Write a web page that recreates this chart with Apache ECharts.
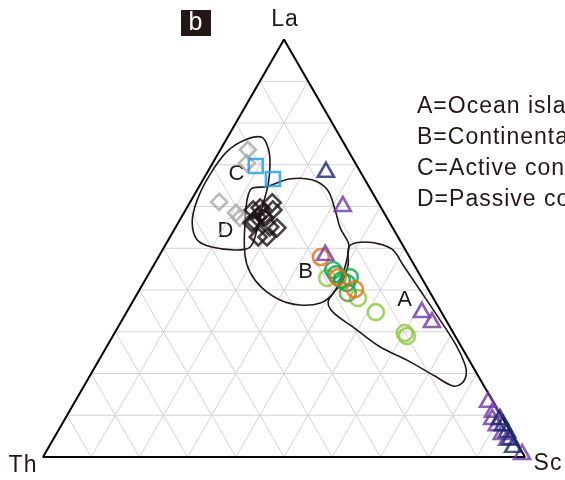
<!DOCTYPE html>
<html><head><meta charset="utf-8">
<script src="https://cdn.jsdelivr.net/npm/echarts@6/dist/echarts.min.js"></script>
<style>html,body{margin:0;padding:0;background:#fff}#c{width:565px;height:480px}</style>
</head><body><div id="c"></div>
<script>
// All compositions are [La, Th, Sc] fractions
const gridTicks = [0.1,0.2,0.3,0.4,0.5,0.6,0.7,0.8,0.9];
const apexLabels = ['La','Th','Sc'];
const fieldLabels = ['A','B','C','D'];
const legendLines = ['A=Ocean island arc','B=Continental island arc','C=Active continental margin','D=Passive continental margin'];

const blueSquares = [[0.697,0.210,0.093],[0.666,0.190,0.144]];
const navyTriangles = [[0.688,0.069,0.243],[0.096,0.004,0.900],[0.081,0.005,0.914],[0.065,0.005,0.930],[0.048,0.007,0.945],[0.029,0.010,0.961]];
const purpleTriangles = [[0.606,0.075,0.319],[0.489,0.170,0.341],[0.352,0.038,0.610],[0.328,0.029,0.643],
  [0.137,0.008,0.855],[0.113,0.010,0.877],[0.096,0.020,0.884],[0.081,0.018,0.901],[0.060,0.018,0.922],[0.046,0.014,0.940],[0.012,0.000,0.988]];
const orangeCircles = [[0.479,0.184,0.337],[0.431,0.173,0.396],[0.402,0.152,0.446]];
const darkGreenCircles = [[0.448,0.174,0.378],[0.438,0.173,0.389],[0.431,0.148,0.421],[0.417,0.161,0.422],[0.424,0.168,0.408]];
const oliveCircles = [[0.393,0.171,0.436]];
const lightGreenCircles = [[0.429,0.196,0.375],[0.381,0.156,0.463],[0.347,0.136,0.517],[0.297,0.101,0.602],[0.290,0.100,0.610]];
const blackDiamonds = [[0.592,0.268,0.140],[0.597,0.251,0.152],[0.609,0.220,0.171],[0.592,0.227,0.181],[0.575,0.268,0.157],
  [0.573,0.253,0.174],[0.561,0.286,0.153],[0.551,0.254,0.195],[0.527,0.290,0.183],[0.527,0.272,0.201],[0.549,0.240,0.211],
  [0.585,0.253,0.162],[0.563,0.279,0.158]];
const greyDiamonds = [[0.736,0.207,0.057],[0.704,0.225,0.071],[0.611,0.329,0.060],[0.585,0.307,0.108],[0.573,0.305,0.122]];

const fieldCD = [[0.760,0.200,0.040],[0.766,0.163,0.071],[0.740,0.163,0.097],[0.704,0.177,0.119],[0.652,0.207,0.141],
  [0.604,0.242,0.154],[0.544,0.284,0.172],[0.503,0.319,0.178],[0.496,0.354,0.150],[0.503,0.398,0.099],[0.520,0.420,0.060],
  [0.563,0.409,0.028],[0.616,0.372,0.012],[0.676,0.316,0.008],[0.732,0.252,0.016]];
const fieldB = [[0.640,0.250,0.110],[0.648,0.210,0.142],[0.666,0.156,0.178],[0.664,0.110,0.226],[0.640,0.090,0.270],
  [0.592,0.098,0.310],[0.549,0.109,0.342],[0.513,0.110,0.377],[0.491,0.121,0.388],[0.441,0.157,0.402],[0.393,0.201,0.406],
  [0.369,0.240,0.391],[0.364,0.285,0.351],[0.376,0.320,0.304],[0.405,0.343,0.252],[0.443,0.349,0.208],[0.484,0.339,0.177],
  [0.556,0.303,0.141]];
const fieldA = [[0.496,0.119,0.385],[0.510,0.104,0.386],[0.515,0.074,0.411],[0.510,0.046,0.444],[0.496,0.026,0.478],
  [0.460,0.023,0.517],[0.400,0.018,0.582],[0.340,0.013,0.647],[0.268,0.009,0.723],[0.220,0.014,0.766],[0.196,0.024,0.780],
  [0.177,0.042,0.781],[0.170,0.064,0.766],[0.194,0.090,0.716],[0.232,0.129,0.639],[0.264,0.169,0.567],[0.311,0.201,0.488],
  [0.347,0.225,0.428],[0.371,0.223,0.406],[0.393,0.201,0.406],[0.419,0.170,0.411],[0.460,0.137,0.403]];

// slight tracking, as in the reference typography
(function(){
  const P = CanvasRenderingContext2D.prototype, orig = P.fillText;
  P.fillText = function(){ if ('letterSpacing' in this) this.letterSpacing = '1px'; return orig.apply(this, arguments); };
})();

const H = Math.sqrt(3)/2;
function toXY(p){ const s=p[0]+p[1]+p[2]; const la=p[0]/s, sc=p[2]/s; return [sc + la/2, la*H]; }

const series = [];
function seg(a,b,color,w){ series.push({type:'line',data:[toXY(a),toXY(b)],showSymbol:false,silent:true,animation:false,clip:false,lineStyle:{color:color,width:w},z:1}); }
gridTicks.forEach(t=>{
  seg([t,1-t,0],[t,0,1-t],'#d3d3d3',1);
  seg([0,t,1-t],[1-t,t,0],'#d3d3d3',1);
  seg([0,1-t,t],[1-t,0,t],'#d3d3d3',1);
});
series.push({type:'line',data:[toXY([1,0,0]),toXY([0,1,0]),toXY([0,0,1]),toXY([1,0,0])],showSymbol:false,silent:true,animation:false,clip:false,lineStyle:{color:'#000',width:2},z:2});

function field(pts){
  series.push({type:'custom',silent:true,animation:false,clip:false,z:3,data:[0],
    renderItem:function(params,api){
      return {type:'polygon',shape:{points:pts.map(p=>api.coord(toXY(p))),smooth:0.35},
        style:{fill:'none',stroke:'#231815',lineWidth:1.6}};
    }});
}
field(fieldCD); field(fieldB); field(fieldA);

function scatter(pts,symbol,size,color){
  series.push({type:'scatter',data:pts.map(toXY),symbol:symbol,symbolSize:size,silent:true,animation:false,clip:false,z:5,
    itemStyle:{color:'rgba(0,0,0,0)',borderColor:color,borderWidth:2.6}});
}
scatter(greyDiamonds,'diamond',16,'#a8a8a8');
scatter(blackDiamonds,'diamond',17,'#1a1311');
scatter(blueSquares,'rect',14,'#1a9fe0');
scatter(lightGreenCircles,'circle',16,'#8cc63f');
scatter(oliveCircles,'circle',16,'#6f8f3a');
scatter(darkGreenCircles,'circle',16,'#12a04c');
scatter(orangeCircles,'circle',16,'#f06a15');
scatter(purpleTriangles,'triangle',[16,14],'#7236a6');
scatter(navyTriangles,'triangle',[16,14],'#172a6b');

const txt = '#231815';
const font = 'Liberation Sans, Arial, sans-serif';
const graphics = [
  {type:'rect',shape:{x:181,y:10,width:30,height:26},style:{fill:'#231815'}},
  {type:'text',x:196,y:23,style:{text:'b',fill:'#fff',font:'25px '+font,textAlign:'center',textVerticalAlign:'middle'}},
  {type:'text',x:285,y:20,style:{text:apexLabels[0],fill:txt,font:'23px '+font,textAlign:'center',textVerticalAlign:'middle'}},
  {type:'text',x:23,y:466,style:{text:apexLabels[1],fill:txt,font:'23px '+font,textAlign:'center',textVerticalAlign:'middle'}},
  {type:'text',x:548,y:464,style:{text:apexLabels[2],fill:txt,font:'23px '+font,textAlign:'center',textVerticalAlign:'middle'}},
  {type:'text',x:405,y:300,style:{text:fieldLabels[0],fill:txt,font:'22px '+font,textAlign:'center',textVerticalAlign:'middle'}},
  {type:'text',x:306,y:272,style:{text:fieldLabels[1],fill:txt,font:'22px '+font,textAlign:'center',textVerticalAlign:'middle'}},
  {type:'text',x:237,y:174,style:{text:fieldLabels[2],fill:txt,font:'22px '+font,textAlign:'center',textVerticalAlign:'middle'}},
  {type:'text',x:226,y:231,style:{text:fieldLabels[3],fill:txt,font:'22px '+font,textAlign:'center',textVerticalAlign:'middle'}}
];
legendLines.forEach((s,i)=>{
  graphics.push({type:'text',x:417,y:107+i*31,style:{text:s,fill:txt,font:'23px '+font,textAlign:'left',textVerticalAlign:'middle'}});
});

const chart = echarts.init(document.getElementById('c'),null,{renderer:'canvas'});
chart.setOption({
  animation:false,
  backgroundColor:'#fff',
  grid:{left:43,top:457-482*H,width:482,height:482*H},
  xAxis:{type:'value',min:0,max:1,show:false},
  yAxis:{type:'value',min:0,max:H,show:false},
  series:series,
  graphic:graphics
});
</script></body></html>
